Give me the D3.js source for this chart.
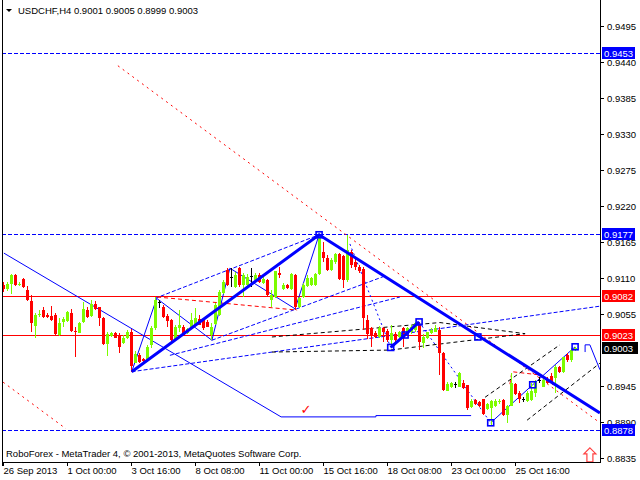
<!DOCTYPE html>
<html><head><meta charset="utf-8">
<script src="https://cdn.jsdelivr.net/npm/d3@7/dist/d3.min.js"></script>
<style>body{margin:0;background:#fff}svg{display:block}text{font-family:"Liberation Sans",Arial,sans-serif}</style>
</head><body><svg id="c" width="640" height="480"></svg>
<script>
// ---- data (USDCHF H4 candles) ----
const opens = [0.9099,0.9093,0.9101,0.9114,0.9100,0.9108,0.9092,0.9075,0.9037,0.9054,0.9061,0.9054,0.9052,0.9054,0.9023,0.9043,0.9044,0.9056,0.9029,0.9026,0.9043,0.9061,0.9052,0.9070,0.9065,0.9049,0.9010,0.9022,0.9026,0.9023,0.9011,0.9018,0.9027,0.8981,0.8992,0.8986,0.8985,0.9008,0.9033,0.9073,0.9066,0.9052,0.9046,0.9015,0.9033,0.9035,0.9026,0.9033,0.9038,0.9047,0.9046,0.9043,0.9023,0.9040,0.9054,0.9087,0.9122,0.9111,0.9097,0.9126,0.9099,0.9099,0.9112,0.9107,0.9115,0.9103,0.9107,0.9076,0.9081,0.9117,0.9093,0.9099,0.9093,0.9115,0.9066,0.9081,0.9098,0.9099,0.9099,0.9116,0.9150,0.9141,0.9122,0.9135,0.9146,0.9143,0.9107,0.9150,0.9134,0.9127,0.9124,0.9046,0.9034,0.9026,0.9020,0.9033,0.9029,0.9015,0.9025,0.9020,0.9033,0.9026,0.9027,0.9031,0.9038,0.9011,0.9018,0.9026,0.9028,0.9031,0.8995,0.8938,0.8944,0.8948,0.8944,0.8950,0.8946,0.8913,0.8924,0.8920,0.8925,0.8910,0.8911,0.8915,0.8920,0.8924,0.8901,0.8915,0.8948,0.8935,0.8925,0.8922,0.8924,0.8934,0.8954,0.8944,0.8955,0.8960,0.8957,0.8974,0.8967,0.8993,0.8985,0.9001];
const highs = [0.9104,0.9104,0.9116,0.9116,0.9104,0.9110,0.9098,0.9084,0.9057,0.9061,0.9066,0.9057,0.9068,0.9057,0.9049,0.9051,0.9060,0.9063,0.9035,0.9043,0.9074,0.9066,0.9077,0.9075,0.9066,0.9051,0.9028,0.9028,0.9027,0.9026,0.9023,0.9031,0.9032,0.8999,0.8995,0.8988,0.9008,0.9036,0.9081,0.9077,0.9069,0.9055,0.9048,0.9038,0.9061,0.9038,0.9034,0.9056,0.9064,0.9054,0.9049,0.9046,0.9042,0.9072,0.9092,0.9107,0.9125,0.9125,0.9119,0.9127,0.9117,0.9116,0.9125,0.9118,0.9117,0.9111,0.9109,0.9092,0.9120,0.9127,0.9102,0.9101,0.9117,0.9116,0.9081,0.9102,0.9115,0.9112,0.9117,0.9176,0.9165,0.9145,0.9140,0.9148,0.9148,0.9145,0.9176,0.9153,0.9141,0.9130,0.9127,0.9054,0.9035,0.9029,0.9036,0.9035,0.9032,0.9038,0.9028,0.9029,0.9035,0.9035,0.9038,0.9043,0.9043,0.9025,0.9028,0.9033,0.9038,0.9035,0.8997,0.8951,0.8952,0.8952,0.8967,0.8954,0.8947,0.8925,0.8926,0.8923,0.8926,0.8919,0.8924,0.8926,0.8926,0.8926,0.8916,0.8965,0.8950,0.8937,0.8928,0.8937,0.8949,0.8954,0.8959,0.8957,0.8959,0.8965,0.8977,0.8976,0.8990,0.8995,0.9003,0.9005];
const lows = [0.9089,0.9090,0.9085,0.9098,0.9098,0.9095,0.9075,0.9028,0.9019,0.9050,0.9049,0.9049,0.9045,0.9023,0.9021,0.9035,0.9043,0.9028,0.8990,0.9026,0.9042,0.9049,0.9051,0.9061,0.9037,0.9008,0.8991,0.9020,0.9018,0.8995,0.9009,0.9017,0.8967,0.8980,0.8981,0.8981,0.8982,0.9003,0.9031,0.9064,0.9049,0.9035,0.9013,0.9014,0.9028,0.9022,0.9024,0.9032,0.9037,0.9038,0.9031,0.9035,0.9015,0.9038,0.9052,0.9086,0.9098,0.9097,0.9095,0.9097,0.9081,0.9098,0.9097,0.9105,0.9102,0.9101,0.9081,0.9066,0.9080,0.9110,0.9092,0.9093,0.9092,0.9061,0.9064,0.9080,0.9097,0.9098,0.9098,0.9115,0.9135,0.9120,0.9120,0.9132,0.9107,0.9094,0.9104,0.9125,0.9122,0.9118,0.9031,0.9017,0.9005,0.9019,0.9019,0.9012,0.9013,0.9005,0.9011,0.9019,0.9005,0.9023,0.9025,0.9028,0.9000,0.9003,0.9017,0.9025,0.9027,0.8962,0.8937,0.8937,0.8942,0.8942,0.8943,0.8941,0.8908,0.8911,0.8916,0.8913,0.8901,0.8909,0.8886,0.8913,0.8918,0.8899,0.8889,0.8914,0.8932,0.8919,0.8920,0.8920,0.8923,0.8929,0.8949,0.8943,0.8948,0.8949,0.8935,0.8965,0.8965,0.8982,0.8982,0.8999];
const closes = [0.9093,0.9101,0.9115,0.9099,0.9101,0.9096,0.9076,0.9041,0.9054,0.9055,0.9051,0.9050,0.9046,0.9024,0.9042,0.9047,0.9058,0.9029,0.9027,0.9042,0.9062,0.9051,0.9070,0.9062,0.9049,0.9009,0.9024,0.9026,0.9019,0.9005,0.9019,0.9027,0.8975,0.8994,0.8982,0.8983,0.9005,0.9033,0.9077,0.9073,0.9051,0.9044,0.9015,0.9035,0.9038,0.9023,0.9032,0.9046,0.9049,0.9039,0.9033,0.9035,0.9035,0.9069,0.9089,0.9104,0.9099,0.9111,0.9115,0.9099,0.9115,0.9112,0.9112,0.9115,0.9104,0.9108,0.9084,0.9084,0.9120,0.9115,0.9100,0.9094,0.9116,0.9066,0.9079,0.9100,0.9110,0.9110,0.9116,0.9171,0.9140,0.9122,0.9137,0.9146,0.9108,0.9107,0.9153,0.9130,0.9127,0.9120,0.9049,0.9024,0.9023,0.9020,0.9034,0.9028,0.9015,0.9026,0.9015,0.9027,0.9018,0.9033,0.9035,0.9041,0.9013,0.9020,0.9027,0.9031,0.9034,0.8995,0.8939,0.8948,0.8949,0.8948,0.8965,0.8942,0.8911,0.8923,0.8918,0.8914,0.8902,0.8917,0.8922,0.8923,0.8923,0.8901,0.8915,0.8949,0.8933,0.8925,0.8925,0.8934,0.8937,0.8952,0.8954,0.8955,0.8950,0.8952,0.8974,0.8967,0.8990,0.8985,0.9000,0.9003];

const dateTickBars = [0,16,32,48,64,80,96,112,128];
const dateTickLabels = ["26 Sep 2013","1 Oct 00:00","3 Oct 16:00","8 Oct 08:00","11 Oct 00:00","15 Oct 16:00","18 Oct 08:00","23 Oct 00:00","25 Oct 16:00"];
// 0.9000 is fully covered by the current-price box in the reference, so it is not listed
const priceTicks = [0.9495,0.9440,0.9385,0.9330,0.9275,0.9220,0.9165,0.9110,0.9055,0.8945,0.8890,0.8835];

// horizontal levels
const blueLevels = [0.9453,0.9177,0.8878];
const redLevels = [0.9082,0.9023];
const lastPrice = 0.9003;

// analysis drawings as [bar index, price]
const thickMain = [[32.05,0.8967],[78.9,0.9176],[149.1,0.8904]];
const thickSmall = [[96.8,0.9004],[100.4,0.9023],[103.9,0.9043]];
const squarePts = [[78.9,0.9176],[118.6,0.9020],[96.8,0.9004],[100.4,0.9023],[103.9,0.9043],[121.8,0.8889],[132.3,0.8947],[142.9,0.9005]];
const thinZigzag = [[32.05,0.8967],[38.3,0.9079],[52.1,0.9015],[56.6,0.9125],[72.9,0.9063],[78.9,0.9176]];
const thinWave = [[0.1,0.9148],[69.4,0.8898],[93.1,0.8898],[93.1,0.8900],[116.9,0.8900]];
const thinUp = [[121.8,0.8889],[132.3,0.8947],[142.9,0.9005]];
const thinProj = [[145.4,0.8997],[145.4,0.9008],[146.6,0.9008],[149.1,0.8970]];
const dotDown = [[103.9,0.9043],[121.8,0.8889]];
const dotFromTop = [[86.6,0.9162],[96.8,0.9004]];
const blueDashed = [
  [[37.9,0.9079],[78.9,0.9176]],
  [[32.05,0.8967],[149.1,0.9067]],
  [[41.6,0.8992],[99.1,0.9081]],
  [[52.1,0.9015],[94.9,0.9112]]
];
const redDotted = [
  [[28.6,0.9434],[149.1,0.8889]],
  [[-0.1,0.8951],[15.6,0.8880]]
];
const redDashed = [
  [[38.4,0.9081],[73.4,0.9061]],
  [[126.6,0.8948],[127.1,0.8967],[134.1,0.8962],[137.4,0.8947]]
];
const blackDashed = [
  [[67.1,0.9020],[109.1,0.9042],[130.4,0.9025]],
  [[67.1,0.8997],[96.6,0.9000],[130.4,0.9025]],
  [[120.4,0.8928],[139.1,0.9008]],
  [[130.9,0.8893],[149.1,0.8980]]
];
const checkMark = [75.6,0.8909];
const upArrow = [146.6,0.8840];

// ---- drawing ----
const svg = d3.select("#c");
const left = 2, right = 600, bottom = 462;
const x = d3.scaleLinear().domain([0,143]).range([3.5,575.5]);
const y = d3.scaleLinear().domain([0.9453,0.8878]).range([53.3,430]);
const line = d3.line().x(d=>x(d[0])).y(d=>y(d[1]));

svg.append("defs").append("clipPath").attr("id","plot")
  .append("rect").attr("x",left+1).attr("y",0).attr("width",right-left-1).attr("height",bottom);
const g = svg.append("g").attr("clip-path","url(#plot)");

// level lines
blueLevels.forEach(p=>g.append("line").attr("x1",left).attr("x2",right).attr("y1",Math.round(y(p))+0.5).attr("y2",Math.round(y(p))+0.5)
  .attr("stroke","#0000ff").attr("stroke-dasharray","4,2"));
redLevels.forEach(p=>g.append("line").attr("x1",left).attr("x2",right).attr("y1",Math.round(y(p))+0.5).attr("y2",Math.round(y(p))+0.5)
  .attr("stroke","#ff0000").attr("stroke-width",1.2));

// dashed / dotted analysis lines
blueDashed.forEach(l=>g.append("path").attr("d",line(l)).attr("fill","none").attr("stroke","#0000ff").attr("stroke-dasharray","4,2"));
redDotted.forEach(l=>g.append("path").attr("d",line(l)).attr("fill","none").attr("stroke","#ff0000").attr("stroke-dasharray","2,4"));
redDashed.forEach(l=>g.append("path").attr("d",line(l)).attr("fill","none").attr("stroke","#ff0000").attr("stroke-dasharray","4,3"));
blackDashed.forEach(l=>g.append("path").attr("d",line(l)).attr("fill","none").attr("stroke","#000").attr("stroke-dasharray","4,3"));
[dotDown,dotFromTop].forEach(l=>g.append("path").attr("d",line(l)).attr("fill","none").attr("stroke","#0000ff").attr("stroke-dasharray","2,3"));
[thinZigzag,thinWave,thinUp,thinProj].forEach(l=>g.append("path").attr("d",line(l)).attr("fill","none").attr("stroke","#0000ff").attr("stroke-width",1));

// candles
const idx = d3.range(opens.length);
const cg = g.append("g").attr("shape-rendering","crispEdges");
idx.forEach(i=>{
  const o=opens[i], c=closes[i], h=highs[i], l=lows[i];
  const col = c>o ? "#7cfc00" : (c<o ? "#ff0000" : "#000000");
  const cx = x(i);
  cg.append("line").attr("x1",cx).attr("x2",cx).attr("y1",y(h)).attr("y2",y(l)).attr("stroke",col);
  const t = y(Math.max(o,c)), b = y(Math.min(o,c));
  if (c===o) cg.append("line").attr("x1",cx-1.5).attr("x2",cx+1.5).attr("y1",t).attr("y2",t).attr("stroke",col);
  else cg.append("rect").attr("x",cx-1.5).attr("width",3).attr("y",t).attr("height",Math.max(1,b-t)).attr("fill",col);
});

// thick zigzag
[thickMain,thickSmall].forEach(l=>g.append("path").attr("d",line(l)).attr("fill","none").attr("stroke","#0000ff").attr("stroke-width",3));
squarePts.forEach(p=>g.append("rect").attr("x",x(p[0])-3).attr("y",y(p[1])-3).attr("width",6).attr("height",6)
  .attr("fill","none").attr("stroke","#0000ff").attr("stroke-width",1.6));

// check mark and arrow
g.append("text").attr("x",x(checkMark[0])).attr("y",y(checkMark[1])+4).attr("text-anchor","middle")
  .attr("font-size",13).attr("fill","#ff0000").style("font-family","DejaVu Sans").text("✓");
const ax = x(upArrow[0]), ay = y(upArrow[1]);
g.append("path").attr("d",`M${ax},${ay-7} L${ax+6},${ay-1} L${ax+3},${ay-1} L${ax+3},${ay+7} L${ax-3},${ay+7} L${ax-3},${ay-1} L${ax-6},${ay-1} Z`)
  .attr("fill","#fff").attr("stroke","#ff4040").attr("stroke-width",1.2);

// frame
svg.append("line").attr("x1",left+0.5).attr("x2",left+0.5).attr("y1",0).attr("y2",bottom+4).attr("stroke","#000");
svg.append("line").attr("x1",right+0.5).attr("x2",right+0.5).attr("y1",0).attr("y2",bottom+1).attr("stroke","#000");
svg.append("line").attr("x1",left).attr("x2",right+1).attr("y1",bottom+0.5).attr("y2",bottom+0.5).attr("stroke","#000");

// price axis
const ya = svg.append("g");
priceTicks.forEach(p=>{
  const yy = Math.round(y(p))+0.5;
  ya.append("line").attr("x1",right).attr("x2",right+4).attr("y1",yy).attr("y2",yy).attr("stroke","#000");
  ya.append("text").attr("x",right+7).attr("y",yy+3.5).attr("font-size",9.5).attr("fill","#000").text(p.toFixed(4));
});
// date axis
dateTickBars.forEach((b,k)=>{
  const xx = Math.round(x(b)-0.5)+0.5;
  svg.append("line").attr("x1",xx).attr("x2",xx).attr("y1",bottom).attr("y2",bottom+4).attr("stroke","#000");
  svg.append("text").attr("x",xx).attr("y",bottom+12).attr("font-size",9.5).attr("fill","#000").text(dateTickLabels[k]);
});

// price label boxes
function box(p,bg){
  const yy = Math.round(y(p));
  svg.append("rect").attr("x",right+2).attr("y",yy-6).attr("width",p===lastPrice?36:33).attr("height",12).attr("fill",bg);
  svg.append("text").attr("x",right+4).attr("y",yy+3.5).attr("font-size",9.5).attr("fill","#fff").text(p.toFixed(4));
}
blueLevels.forEach(p=>box(p,"#0000ff"));
redLevels.forEach(p=>box(p,"#ff0000"));
box(lastPrice,"#000");

// title and copyright
svg.append("path").attr("d","M6,9 L12,9 L9,12 Z").attr("fill","#000");
svg.append("text").attr("x",18).attr("y",13.5).attr("font-size",9.5).attr("fill","#000")
  .text(`USDCHF,H4  ${opens[143].toFixed(4)} ${highs[143].toFixed(4)} ${lows[143].toFixed(4)} ${closes[143].toFixed(4)}`);
svg.append("text").attr("x",6).attr("y",457).attr("font-size",9.5).attr("fill","#000")
  .text("RoboForex - MetaTrader 4, © 2001-2013, MetaQuotes Software Corp.");
</script></body></html>
